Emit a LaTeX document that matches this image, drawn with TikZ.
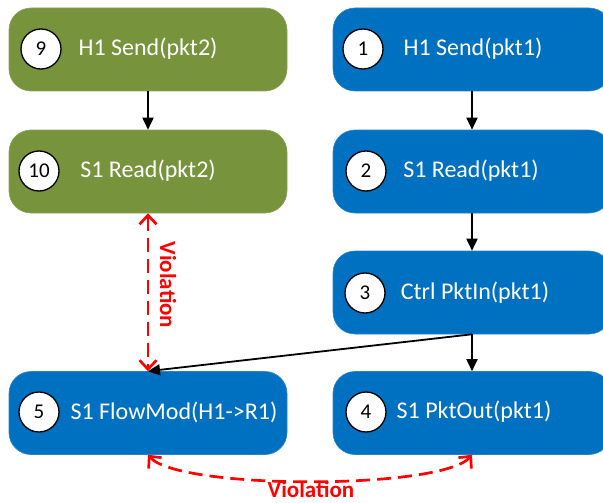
\documentclass[tikz,border=0pt]{standalone}
\usepackage{fontspec}
\setmainfont{Carlito}
\usetikzlibrary{arrows.meta}
\definecolor{oliveg}{HTML}{77933C}
\definecolor{blueb}{HTML}{0070C0}
\definecolor{viored}{HTML}{FF0000}
\tikzset{
  box/.style={rounded corners=22pt, minimum width=278pt, minimum height=83pt, inner sep=0pt, line width=0.6pt},
  gbox/.style={box, fill=oliveg, draw=oliveg!85!white},
  bbox/.style={box, fill=blueb, draw=blueb!85!white},
  num/.style={circle, fill=white, draw=black, line width=1.3pt, minimum size=40pt, inner sep=0pt, font=\fontsize{21}{21}\selectfont},
  lbl/.style={text=white, inner sep=0pt, font=\fontsize{24}{24}\selectfont},
  flow/.style={-{Triangle[length=12pt,width=11pt]}, line width=1.8pt, black},
  viol/.style={{Straight Barb[length=9pt,width=17pt]}-{Straight Barb[length=9pt,width=17pt]}, line width=2.7pt, viored, dash pattern=on 14pt off 7pt},
  vlbl/.style={text=viored, inner sep=0pt, font=\fontsize{23}{23}\selectfont\bfseries}
}
\begin{document}
\begin{tikzpicture}[x=1pt,y=-1pt]
\useasboundingbox (0,0) rectangle (603,503);
% boxes
\node[gbox] (b9) at (148,49.5) {};
\node[gbox] (b10) at (148,171.5) {};
\node[bbox] (b1) at (472,49.5) {};
\node[bbox] (b2) at (472,171.5) {};
\node[bbox] (b3) at (472,292.5) {};
\node[bbox] (b5) at (148,413) {};
\node[bbox] (b4) at (472,413) {};
% circles
\node[num] (c9) at (41,49) {9};
\node[num] (c10) at (39,171) {10};
\node[num] (c1) at (363,49) {1};
\node[num] (c2) at (366,171) {2};
\node[num] (c3) at (365,293) {3};
\node[num] (c5) at (39,412) {5};
\node[num] (c4) at (366,412) {4};
% labels
\node[lbl] (t9) at (148,49) {H1 Send(pkt2)};
\node[lbl] (t10) at (148,171) {S1 Read(pkt2)};
\node[lbl] (t1) at (473,49) {H1 Send(pkt1)};
\node[lbl] (t2) at (471,171) {S1 Read(pkt1)};
\node[lbl] (t3) at (475,293) {Ctrl PktIn(pkt1)};
\node[lbl] (t4) at (474,412) {S1 PktOut(pkt1)};
\node[lbl] (t5) at (174,412) {S1 FlowMod(H1->R1)};
% flow arrows
\draw[flow] (b9.south) -- (b10.north);
\draw[flow] (b1.south) -- (b2.north);
\draw[flow] (b2.south) -- (b3.north);
\draw[flow] (b3.south) -- (b4.north);
\draw[flow] (b3.south) -- (b5.north);
% violations
\draw[viol] (b10.south) -- (b5.north);
\node[vlbl, rotate=-90] (v1) at (168,285) {Violation};
\draw[viol] (b5.south) .. controls (178,490) and (442,490) .. (b4.south);
\node[vlbl] (v2) at (311,489.5) {Violation};
\end{tikzpicture}
\end{document}
